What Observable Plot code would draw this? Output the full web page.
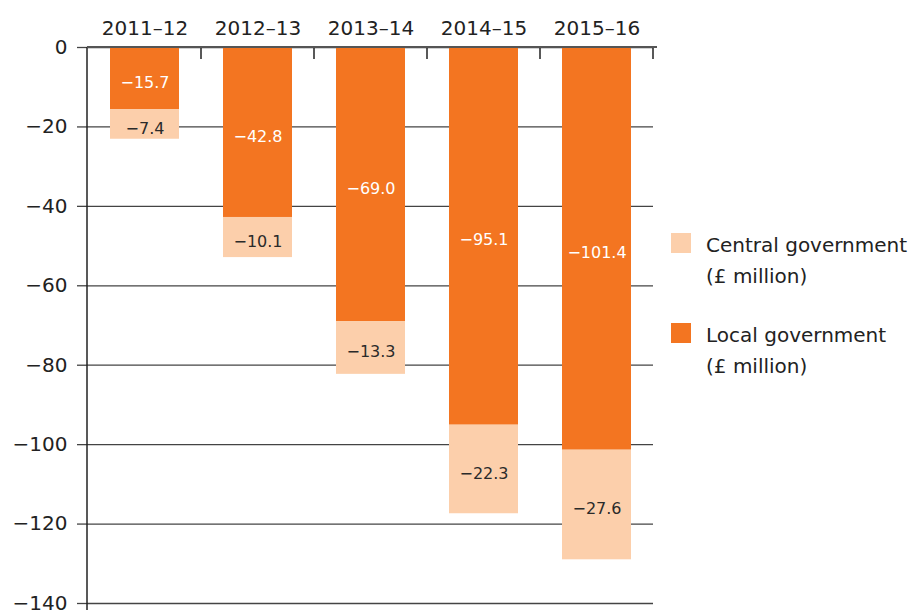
<!DOCTYPE html>
<html>
<head>
<meta charset="utf-8">
<script src="https://cdn.jsdelivr.net/npm/d3@7"></script>
<script src="https://cdn.jsdelivr.net/npm/@observablehq/plot@0.6"></script>
<style>
  html, body { margin: 0; padding: 0; background: #fff; }
  #wrap { position: relative; width: 921px; height: 610px; font-family: "DejaVu Sans", sans-serif; color: #222; }
  #legend { position: absolute; left: 671px; top: 230px; font-size: 20px; line-height: 31px; }
  .item { display: flex; align-items: flex-start; margin-bottom: 28px; }
  .sw { width: 20px; height: 20px; margin-top: 3px; margin-right: 15px; flex: none; }
</style>
</head>
<body>
<div id="wrap"></div>
<script>
const years = ["2011–12", "2012–13", "2013–14", "2014–15", "2015–16"];
const localGov = [-15.7, -42.8, -69.0, -95.1, -101.4];
const centralGov = [-7.4, -10.1, -13.3, -22.3, -27.6];
const yTicks = [0, -20, -40, -60, -80, -100, -120, -140];
const seriesNames = ["Central government", "Local government"];
const seriesColors = ["#FCCFAB", "#F37521"];
const labelColors = ["#2a2a2a", "#ffffff"];

const rows = years.flatMap((yr, i) => [
  {year: yr, series: seriesNames[1], y1: 0, y2: localGov[i], v: localGov[i]},
  {year: yr, series: seriesNames[0], y1: localGov[i], y2: localGov[i] + centralGov[i], v: centralGov[i]}
]);

const fmt = d3.format(".1f");

const plot = Plot.plot({
  width: 921,
  height: 610,
  marginLeft: 87,
  marginRight: 268,
  marginTop: 47,
  marginBottom: 7,
  style: {fontFamily: "DejaVu Sans, sans-serif", fontSize: "20px", color: "#222", background: "white"},
  x: {domain: years, paddingInner: 0.39, paddingOuter: 0.195, axis: null},
  y: {domain: [-140, 0], axis: null},
  color: {domain: seriesNames, range: seriesColors},
  marks: [
    Plot.gridY(yTicks, {stroke: "#444", strokeOpacity: 1, strokeWidth: 1.3}),
    Plot.axisY(yTicks, {tickSize: 10, tickPadding: 10, fontSize: 20, stroke: "#444", strokeWidth: 1.3, label: null}),
    Plot.axisX({anchor: "top", tickSize: 0, tickPadding: 13, fontSize: 20, label: null}),
    Plot.barY(rows, {x: "year", y1: "y1", y2: "y2", fill: "series"}),
    Plot.text(rows, {
      x: "year",
      y: d => (d.y1 + d.y2) / 2,
      text: d => fmt(d.v),
      fill: d => labelColors[seriesNames.indexOf(d.series)],
      fontSize: 16,
      dy: 4
    })
  ]
});

// Boundary ticks at the top axis and the left axis line, placed from the plot's scales
const xs = plot.scale("x");
const ys = plot.scale("y");
const svg = d3.select(plot);
const bounds = years.map(yr => xs.apply(yr) + xs.bandwidth + (xs.step - xs.bandwidth) / 2);
const y0 = ys.apply(0);
svg.append("g")
  .selectAll("line")
  .data(bounds)
  .join("line")
  .attr("x1", d => d).attr("x2", d => d)
  .attr("y1", y0).attr("y2", y0 + 12)
  .attr("stroke", "#222").attr("stroke-width", 1.5);
svg.append("line")
  .attr("x1", xs.range[0]).attr("x2", xs.range[0])
  .attr("y1", y0).attr("y2", 610)
  .attr("stroke", "#222").attr("stroke-width", 1.5);
svg.append("line")
  .attr("x1", xs.range[0]).attr("x2", xs.range[1] + 4)
  .attr("y1", y0).attr("y2", y0)
  .attr("stroke", "#555").attr("stroke-width", 1.8);

const wrap = document.getElementById("wrap");
wrap.appendChild(plot);

const legend = document.createElement("div");
legend.id = "legend";
seriesNames.forEach((name, i) => {
  const item = document.createElement("div");
  item.className = "item";
  const sw = document.createElement("div");
  sw.className = "sw";
  sw.style.background = seriesColors[i];
  const txt = document.createElement("div");
  txt.innerHTML = name + "<br>(£ million)";
  item.appendChild(sw);
  item.appendChild(txt);
  legend.appendChild(item);
});
wrap.appendChild(legend);
</script>
</body>
</html>
